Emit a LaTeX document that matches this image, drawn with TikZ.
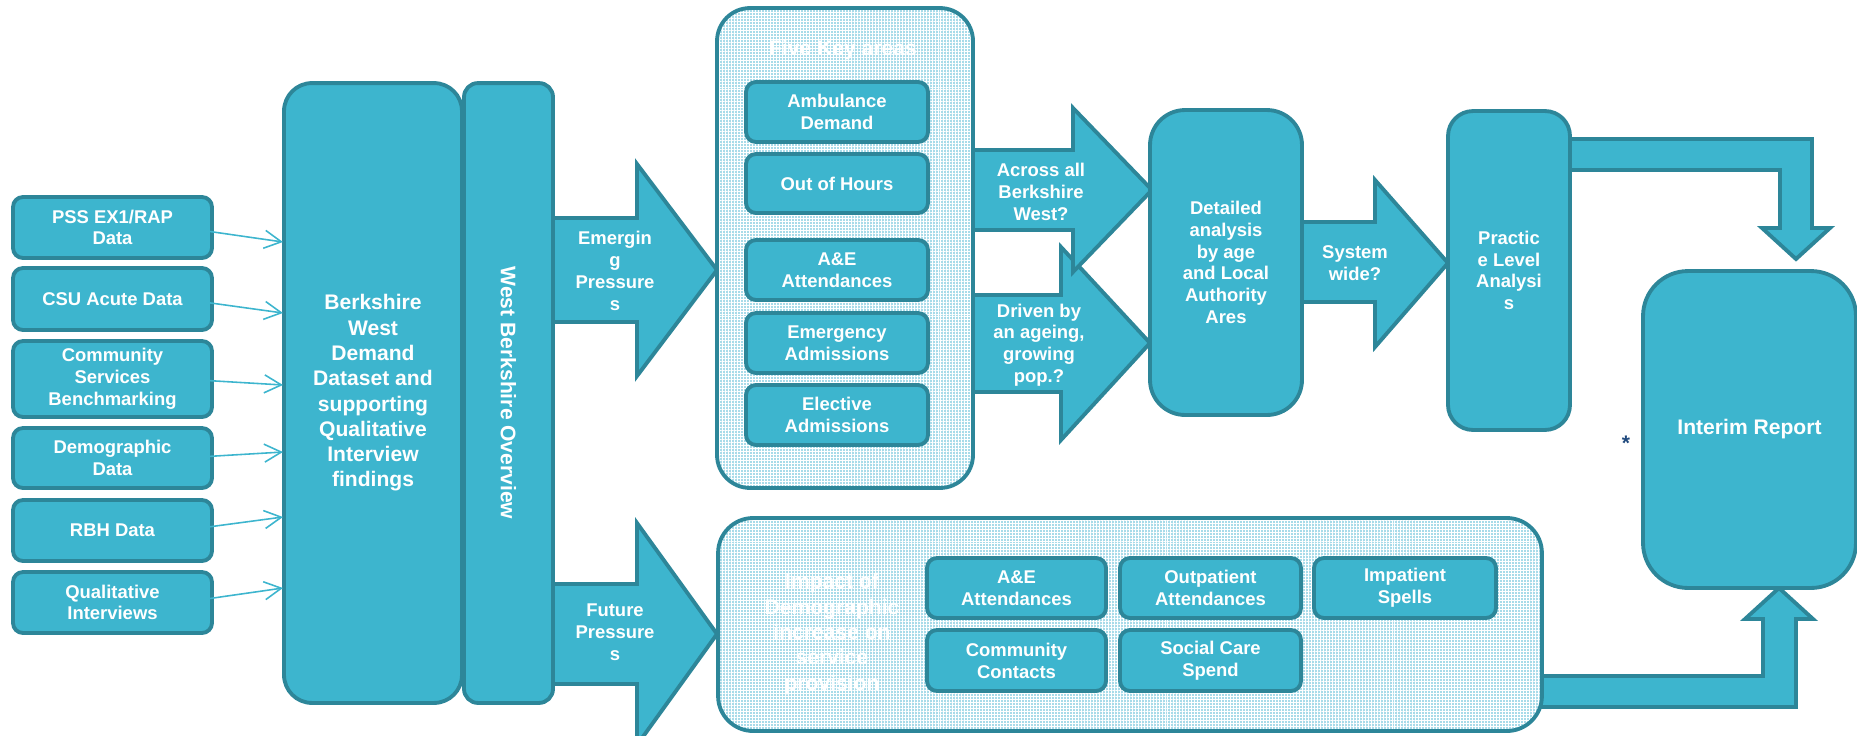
\documentclass[tikz,border=0pt]{standalone}
\usepackage{fontspec}
\setmainfont{Liberation Sans}
\usetikzlibrary{arrows.meta,patterns.meta}
\definecolor{boxfill}{RGB}{61,181,206}
\definecolor{boxline}{RGB}{45,134,153}
\definecolor{panelfill}{RGB}{168,219,233}
\definecolor{starblue}{RGB}{31,73,125}

\begin{document}
\begin{tikzpicture}[x=0.02cm,y=-0.02cm]
\tikzstyle{box}=[draw=boxline,fill=boxfill,line width=2.2pt,rounded corners=0.2cm,text=white,font=\fontsize{10.5}{12.4}\selectfont\bfseries,align=center,inner sep=0pt]
\tikzstyle{bigbox}=[box,font=\fontsize{12}{14.4}\selectfont\bfseries]
\tikzstyle{panel}=[preaction={fill=panelfill},pattern={Lines[angle=0,distance=1.7pt,line width=0.4pt]},pattern color=white,postaction={pattern={Lines[angle=90,distance=1.7pt,line width=0.4pt]},pattern color=white},postaction={draw=boxline,line width=2.2pt},inner sep=0pt]
\tikzstyle{blockarrow}=[draw=boxline,fill=boxfill,line width=2.2pt]
\tikzstyle{arrowtext}=[text=white,font=\fontsize{10.5}{12.4}\selectfont\bfseries,align=center,inner sep=0pt]
\tikzstyle{paneltext}=[arrowtext,font=\fontsize{12}{14.4}\selectfont\bfseries]
\tikzstyle{feed}=[draw=boxfill,line width=0.9pt,-{Straight Barb[length=3.4mm,width=3.6mm]}]
\useasboundingbox (0,0) rectangle (1857,735);
\clip (0,0) rectangle (1857,735);

\node[box,minimum width=3.98cm,minimum height=1.22cm] (pss) at (112.5,227.5) {PSS EX1/RAP\\Data};
\node[box,minimum width=3.98cm,minimum height=1.24cm] (csu) at (112.5,299) {CSU Acute Data};
\node[box,minimum width=3.98cm,minimum height=1.52cm] (csb) at (112.5,379) {Community\\Services\\Benchmarking};
\node[box,minimum width=3.98cm,minimum height=1.2cm] (demo) at (112.5,458) {Demographic\\Data};
\node[box,minimum width=3.98cm,minimum height=1.22cm] (rbh) at (112.5,530.5) {RBH Data};
\node[box,minimum width=3.98cm,minimum height=1.22cm] (qual) at (112.5,602.5) {Qualitative\\Interviews};

\node[bigbox,rounded corners=0.56cm,minimum width=3.56cm,minimum height=12.4cm] (bwd) at (373,393) {Berkshire\\West\\Demand\\Dataset and\\supporting\\Qualitative\\Interview\\findings};
\node[bigbox,rounded corners=0.28cm,rotate=-90,minimum width=12.4cm,minimum height=1.78cm] (ovw) at (508.5,393) {West Berkshire Overview};

\coordinate (in1) at (283,242);
\coordinate (in2) at (283,313);
\coordinate (in3) at (283,385);
\coordinate (in4) at (283,452);
\coordinate (in5) at (283,517);
\coordinate (in6) at (283,588);
\draw[feed] ([xshift=-0.64cm]pss.east) -- (in1);
\draw[feed] ([xshift=-0.64cm]csu.east) -- (in2);
\draw[feed] ([xshift=-0.64cm]csb.east) -- (in3);
\draw[feed] ([xshift=-0.64cm]demo.east) -- (in4);
\draw[feed] ([xshift=-0.64cm]rbh.east) -- (in5);
\draw[feed] ([xshift=-0.64cm]qual.east) -- (in6);

\draw[blockarrow] (553,218) -- (637,218) -- (637,164) -- (717,270) -- (637,376) -- (637,322) -- (553,322) -- cycle;
\node[arrowtext] (emerging) at (615,271) {Emergin\\g\\Pressure\\s};
\draw[blockarrow] (553,584) -- (637,584) -- (637,523) -- (717,634) -- (637,745) -- (637,684) -- (553,684) -- cycle;
\node[arrowtext] (future) at (615,632) {Future\\Pressure\\s};
\draw[blockarrow] (1530,676) -- (1763,676) -- (1763,619) -- (1745,619) -- (1779,588) -- (1813,619) -- (1796,619) -- (1796,707) -- (1530,707) -- cycle;

\node[panel,rounded corners=0.66cm,minimum width=5.12cm,minimum height=9.6cm] (fka) at (845,248) {};
\node[paneltext] (fkatitle) at (843,50) {Five Key areas};
\node[box,minimum width=3.64cm,minimum height=1.2cm] (amb) at (837,112) {Ambulance\\Demand};
\node[box,minimum width=3.64cm,minimum height=1.18cm] (ooh) at (837,183.5) {Out of Hours};
\node[box,minimum width=3.64cm,minimum height=1.2cm] (ae1) at (837,270) {A\&E\\Attendances};
\node[box,minimum width=3.64cm,minimum height=1.2cm] (emg) at (837,343) {Emergency\\Admissions};
\node[box,minimum width=3.64cm,minimum height=1.2cm] (ele) at (837,415) {Elective\\Admissions};

\node[panel,rounded corners=0.7cm,minimum width=16.48cm,minimum height=4.26cm] (imp) at (1130,624.5) {};
\node[paneltext] (imptext) at (832,634) {Impact of\\Demographic\\increase on\\service\\provision};
\node[box,minimum width=3.58cm,minimum height=1.2cm] (ae2) at (1016.5,588) {A\&E\\Attendances};
\node[box,minimum width=3.62cm,minimum height=1.2cm] (opa) at (1210.5,588) {Outpatient\\Attendances};
\node[box,minimum width=3.64cm,minimum height=1.2cm] (ips) at (1405,588) {Impatient\\Spells};
\node[box,minimum width=3.58cm,minimum height=1.22cm] (cc) at (1016.5,660.5) {Community\\Contacts};
\node[box,minimum width=3.62cm,minimum height=1.22cm] (scs) at (1210.5,660.5) {Social Care\\Spend};

\draw[blockarrow] (973,295) -- (1061,295) -- (1061,247) -- (1150,343) -- (1061,440) -- (1061,392) -- (973,392) -- cycle;
\node[arrowtext] (driven) at (1039,345) {Driven by\\an ageing,\\growing\\pop.?};
\draw[blockarrow] (973,150) -- (1073,150) -- (1073,108) -- (1152,190) -- (1073,272) -- (1073,230) -- (973,230) -- cycle;
\node[arrowtext] (across) at (1041,192) {Across all\\Berkshire\\West?};

\node[box,rounded corners=0.7cm,minimum width=3.04cm,minimum height=6.1cm] (det) at (1226,262.5) {Detailed\\analysis\\by age\\and Local\\Authority\\Ares};
\draw[blockarrow] (1302,222) -- (1375,222) -- (1375,180) -- (1448,263) -- (1375,347) -- (1375,302) -- (1302,302) -- cycle;
\node[arrowtext] (sys) at (1355,263) {System\\wide?};
\node[box,rounded corners=0.5cm,minimum width=2.44cm,minimum height=6.38cm] (pla) at (1509,270.5) {Practic\\e Level\\Analysi\\s};
\draw[blockarrow] (1570,139) -- (1812,139) -- (1812,228) -- (1830,228) -- (1796,259) -- (1762,228) -- (1780,228) -- (1780,170) -- (1570,170) -- cycle;

\node[bigbox,rounded corners=0.9cm,minimum width=4.26cm,minimum height=6.34cm] (ir) at (1749.5,429.5) {Interim Report};
\node[text=starblue,font=\fontsize{12}{14}\selectfont\bfseries,inner sep=0pt] (star) at (1626,443) {*};
\end{tikzpicture}
\end{document}
